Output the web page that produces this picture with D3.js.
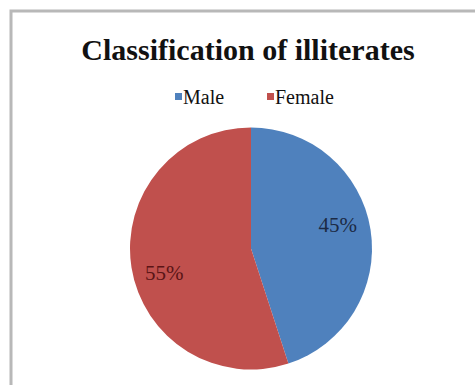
<!DOCTYPE html>
<html>
<head>
<meta charset="utf-8">
<script src="https://cdn.jsdelivr.net/npm/d3@7"></script>
<style>
  body { margin: 0; background: #fff; }
  svg { display: block; }
</style>
</head>
<body>
<figure id="pie" style="margin:0"></figure>
<script>
// chart data
const categories = ["Male", "Female"];
const shares = [45, 55];
const sliceColors = ["#4f81bd", "#c0504d"];
const title = "Classification of illiterates";

const width = 475, height = 385;
const cx = 251, cy = 248.5, radius = 121;
const font = "'Liberation Serif', 'Times New Roman', serif";

const svg = d3.select("figure#pie")
  .append("svg")
  .attr("width", width)
  .attr("height", height);

// chart area border (runs off right and bottom edges)
svg.append("rect")
  .attr("x", 11).attr("y", 11)
  .attr("width", width + 20).attr("height", height + 20)
  .attr("fill", "#fff")
  .attr("stroke", "#b8b8b8")
  .attr("stroke-width", 3);

svg.append("text")
  .attr("x", 248).attr("y", 60)
  .attr("text-anchor", "middle")
  .attr("font-family", font)
  .attr("font-weight", "bold")
  .attr("font-size", 30)
  .attr("fill", "#111")
  .text(title);

const color = d3.scaleOrdinal().domain(categories).range(sliceColors);

// legend
const legend = svg.append("g").attr("transform", "translate(175,104)");
const legendX = [0, 92];
categories.forEach((c, i) => {
  legend.append("rect")
    .attr("x", legendX[i]).attr("y", -11)
    .attr("width", 7).attr("height", 7)
    .attr("fill", color(c));
  legend.append("text")
    .attr("x", legendX[i] + 8).attr("y", 0)
    .attr("font-family", font)
    .attr("font-size", 20)
    .attr("fill", "#111")
    .text(c);
});

const data = categories.map((c, i) => ({ name: c, value: shares[i] }));
const pie = d3.pie().value(d => d.value).sort(null);
const arcs = pie(data);

const g = svg.append("g").attr("transform", `translate(${cx},${cy})`);

g.selectAll("path.slice")
  .data(arcs)
  .enter()
  .append("path")
  .attr("class", "slice")
  .attr("d", d3.arc().innerRadius(0).outerRadius(radius))
  .attr("fill", d => color(d.data.name))
  .attr("stroke", "none");

// labels sit a little counter-clockwise of the slice middle
const labelR = 90, labelShift = -0.11;
const total = d3.sum(shares);
g.selectAll("text.lbl")
  .data(arcs)
  .enter()
  .append("text")
  .attr("class", "lbl")
  .attr("x", d => labelR * Math.sin((d.startAngle + d.endAngle) / 2 + labelShift))
  .attr("y", d => -labelR * Math.cos((d.startAngle + d.endAngle) / 2 + labelShift))
  .attr("dy", "0.35em")
  .attr("text-anchor", "middle")
  .attr("font-family", font)
  .attr("font-size", 21)
  .attr("fill", (d, i) => i === 0 ? "#1c2a44" : "#5a1416")
  .text(d => Math.round(d.value / total * 100) + "%");
</script>
</body>
</html>
